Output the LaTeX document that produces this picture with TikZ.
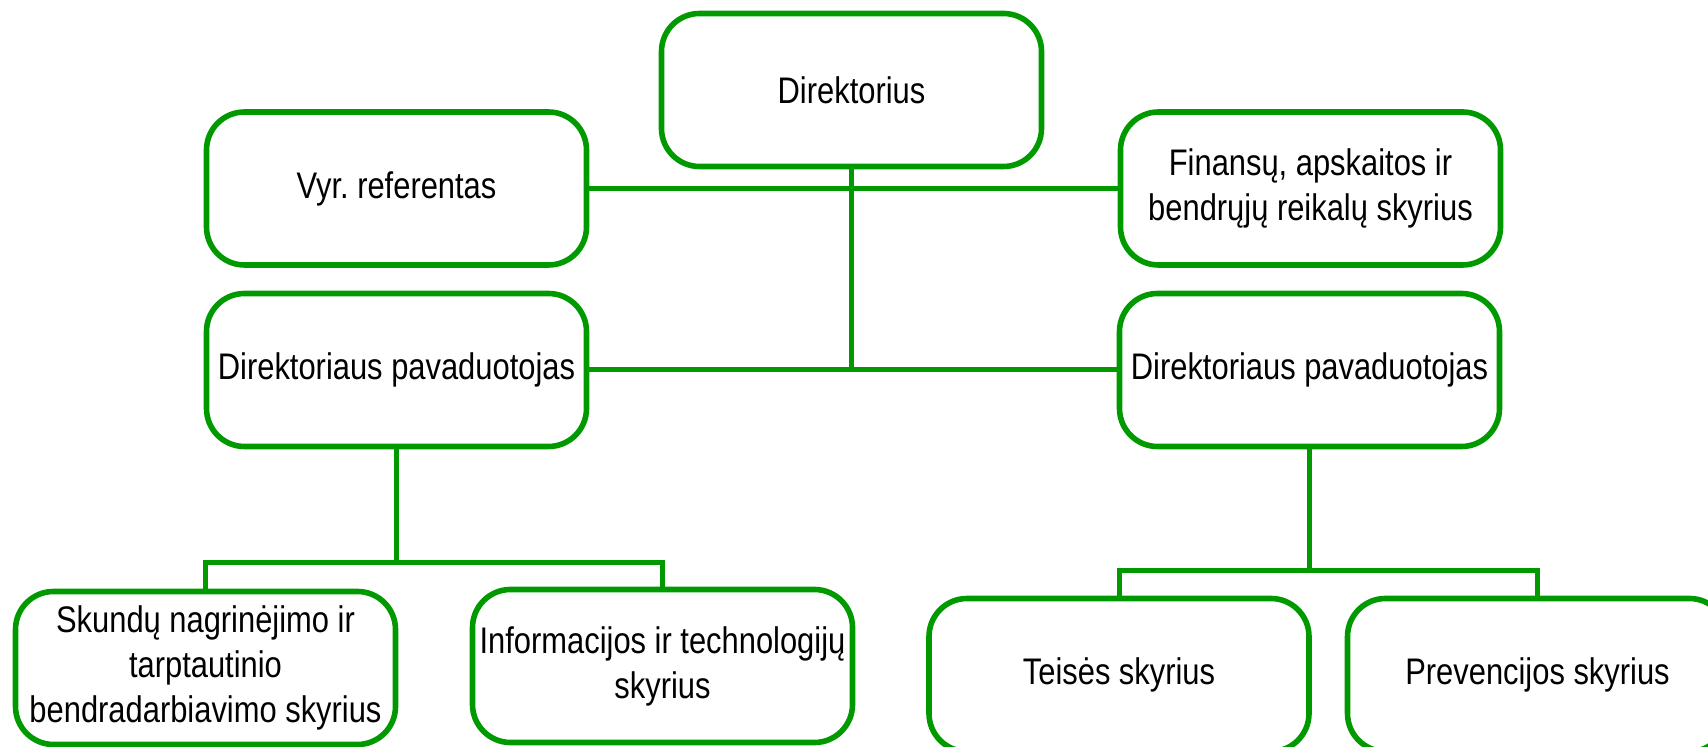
\documentclass[tikz,border=0pt]{standalone}
\usepackage{fontspec}
\setmainfont{Liberation Sans}[FakeStretch=0.835]
\definecolor{grn}{RGB}{0,153,0}
\begin{document}
\frenchspacing
\begin{tikzpicture}[x=0.5pt,y=-0.5pt,
  box/.style={draw=grn, line width=2.8pt, rounded corners=19pt,
    minimum width=190pt, minimum height=76.5pt, inner sep=0pt,
    align=center, font=\fontsize{18.5}{22.5}\selectfont},
  conn/.style={draw=grn, line width=2.5pt}]
\useasboundingbox (0,0) rectangle (1708,747);
\clip (0,0) rectangle (1708,747);
\node[box] (dir) at (851.5,90) {Direktorius};
\node[box] (vyr) at (396.5,188.5) {Vyr.\ referentas};
\node[box] (fin) at (1310.5,188.5) {Finansų, apskaitos ir\\bendrųjų reikalų skyrius};
\node[box] (pl) at (396.5,370) {Direktoriaus pavaduotojas};
\node[box] (pr) at (1309.5,370) {Direktoriaus pavaduotojas};
\node[box] (c1) at (205.5,668) {Skundų nagrinėjimo ir\\tarptautinio\\bendradarbiavimo skyrius};
\node[box] (c2) at (662.5,666) {Informacijos ir technologijų\\skyrius};
\node[box] (c3) at (1119,675) {Teisės skyrius};
\node[box] (c4) at (1537.5,675) {Prevencijos skyrius};
\coordinate (b1) at (396.5,563);
\coordinate (b2) at (1309.5,571);
\draw[conn] (dir.south) -- (dir.south |- pl.east);
\draw[conn] (vyr.east) -- (fin.west);
\draw[conn] (pl.east) -- (pr.west);
\draw[conn] (pl.south) -- (b1);
\draw[conn] (c1.north) |- (b1) -| (c2.north);
\draw[conn] (pr.south) -- (b2);
\draw[conn] (c3.north) |- (b2) -| (c4.north);
\end{tikzpicture}
\end{document}
